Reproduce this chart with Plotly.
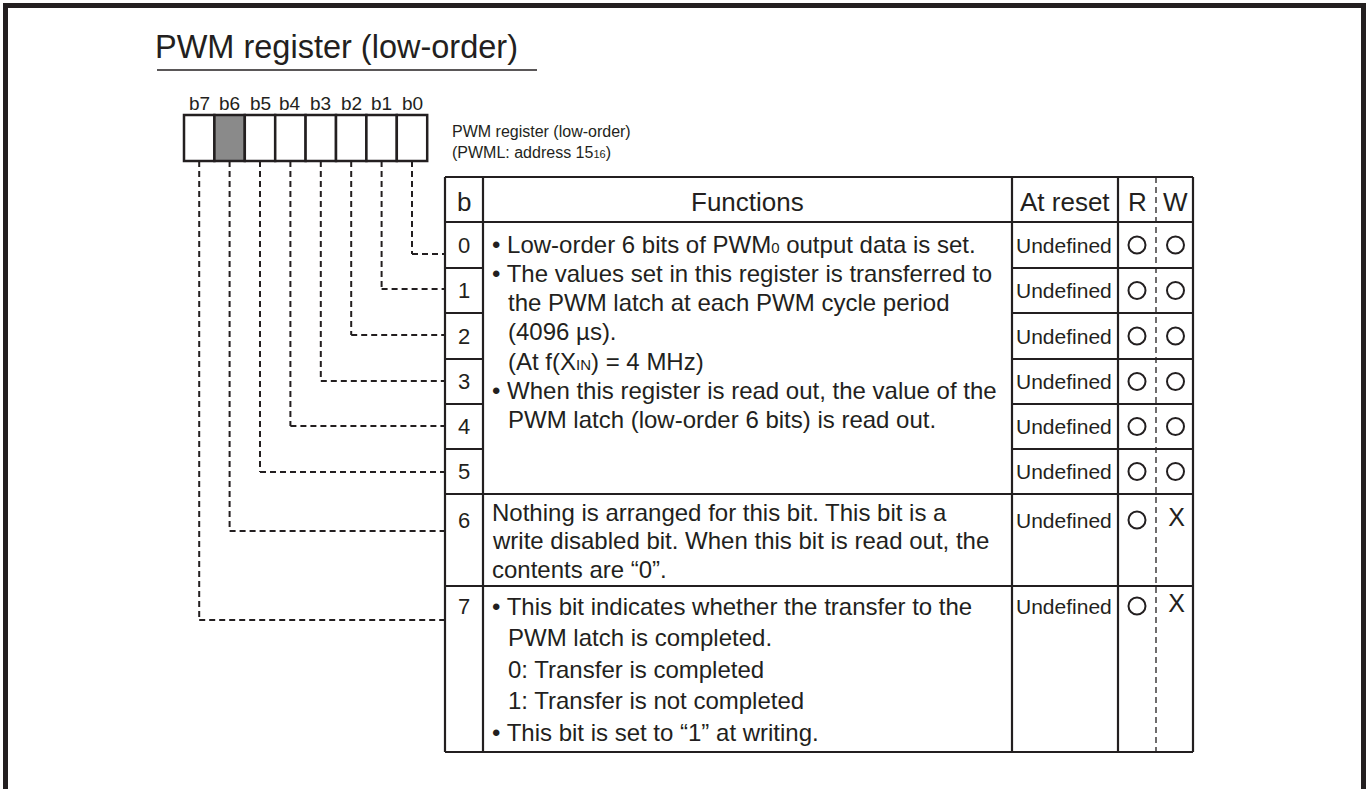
import plotly.graph_objects as go

# ---------------- data ----------------
title_text = "PWM register (low-order)"
register_caption = ["PWM register (low-order)",
                    "(PWML: address 15<span style='font-size:11px'>16</span>)"]
bit_labels = ["b7", "b6", "b5", "b4", "b3", "b2", "b1", "b0"]
shaded_bits = ["b6"]
header_labels = ["b", "Functions", "At reset", "R", "W"]
row_bits = ["0", "1", "2", "3", "4", "5", "6", "7"]
reset_values = ["Undefined"] * 8
read_access = ["O", "O", "O", "O", "O", "O", "O", "O"]
write_access = ["O", "O", "O", "O", "O", "O", "X", "X"]
func_rows_0_5 = [
    "• Low-order 6 bits of PWM<span style='font-size:15px'>0</span> output data is set.",
    "• The values set in this register is transferred to",
    "the PWM latch at each PWM cycle period",
    "(4096 µs).",
    "(At f(X<span style='font-size:15px'>IN</span>) = 4 MHz)",
    "• When this register is read out, the value of the",
    "PWM latch (low-order 6 bits) is read out.",
]
func_row_6 = [
    "Nothing is arranged for this bit. This bit is a",
    "write disabled bit. When this bit is read out, the",
    "contents are “0”.",
]
func_row_7 = [
    "• This bit indicates whether the transfer to the",
    "PWM latch is completed.",
    "0: Transfer is completed",
    "1: Transfer is not completed",
    "• This bit is set to “1” at writing.",
]

# ---------------- layout constants ----------------
W, H = 1367, 789
INK = "#231f20"
FONT = "Liberation Sans, Arial, Helvetica, sans-serif"

box_x0, box_w, box_top, box_bot = 184, 30.4, 115, 161
tab_l, col_b, col_f, col_r, col_rw, tab_r = 445, 483, 1012, 1118, 1156, 1193
tab_top, head_bot = 177, 222
row_bottoms = [268, 313, 359, 404, 449, 494, 586, 752]
connector_y = [254, 289, 335, 381, 426, 472, 531, 620]
mark_y_first_line = {6: 520, 7: 606}
FUNC_SIZE = 24

shapes, annots = [], []


def line(x0, y0, x1, y1, w=2.2, dash=None, color=INK):
    d = dict(type="line", x0=x0, y0=y0, x1=x1, y1=y1, xref="x", yref="y",
             line=dict(color=color, width=w))
    if dash:
        d["line"]["dash"] = dash
    shapes.append(d)


def text(x, y, s, size, anchor="left", color=INK):
    annots.append(dict(x=x, y=y, xref="x", yref="y", text=s, showarrow=False,
                       xanchor=anchor, yanchor="middle", borderpad=0,
                       font=dict(family=FONT, size=size, color=color)))


# outer frame (open at bottom)
line(5.5, 3, 5.5, H, w=5)
line(3, 5.5, 1364, 5.5, w=5)
line(1363.5, 3, 1363.5, H, w=5)

# title + underline
text(154, 47, title_text, 32.5)
line(157, 70, 537, 70, w=1.5)

# bit boxes
for i, b in enumerate(bit_labels):
    x0 = box_x0 + i * box_w
    shapes.append(dict(type="rect", x0=x0, x1=x0 + box_w, y0=box_top, y1=box_bot,
                       xref="x", yref="y", line=dict(color=INK, width=2.5),
                       fillcolor="#8a8a8a" if b in shaded_bits else "white"))
    text(x0 + box_w / 2, 103, b, 19, anchor="center")

# register caption
for k, s in enumerate(register_caption):
    text(451, 131 + k * 21, s, 16)

# row geometry
row_tops = [head_bot] + row_bottoms[:-1]
row_mid = [(t + b) / 2 for t, b in zip(row_tops, row_bottoms)]
mark_y = [mark_y_first_line.get(i, row_mid[i]) for i in range(8)]

# connectors: bit b(n) -> row n
for n in range(8):
    xc = box_x0 + (7 - n) * box_w + box_w / 2
    yc = connector_y[n]
    line(xc, box_bot, xc, yc, w=2, dash="6px,4px")
    line(xc, yc, tab_l, yc, w=2, dash="6px,4px")

# table outline and grid
line(tab_l, tab_top, tab_r, tab_top)
line(tab_l, row_bottoms[-1], tab_r, row_bottoms[-1])
line(tab_l, tab_top, tab_l, row_bottoms[-1])
line(tab_r, tab_top, tab_r, row_bottoms[-1])
for xv in (col_b, col_f, col_r):
    line(xv, tab_top, xv, row_bottoms[-1])
line(col_rw, tab_top, col_rw, row_bottoms[-1], w=1.3, dash="6px,4px")
line(tab_l, head_bot, tab_r, head_bot)
for i, yb in enumerate(row_bottoms[:-1]):
    if i < 5:
        line(tab_l, yb, col_b, yb)
        line(col_f, yb, tab_r, yb)
    else:
        line(tab_l, yb, tab_r, yb)

# header
hx = [(tab_l + col_b) / 2, (col_b + col_f) / 2, (col_f + col_r) / 2,
      (col_r + col_rw) / 2, (col_rw + tab_r) / 2 + 1]
for x, s in zip(hx, header_labels):
    text(x, 202, s, 26, anchor="center")

# row cells
for i in range(8):
    text(hx[0], mark_y[i], row_bits[i], 22, anchor="center")
    text((col_f + col_r) / 2 - 1, mark_y[i], reset_values[i], 21, anchor="center")

# access marks through scatter traces
traces = []
for col_x, access in ((hx[3], read_access), (hx[4], write_access)):
    ys_o = [mark_y[i] for i, a in enumerate(access) if a == "O"]
    ys_x = [mark_y[i] for i, a in enumerate(access) if a == "X"]
    if ys_o:
        traces.append(go.Scatter(x=[col_x] * len(ys_o), y=ys_o, mode="markers",
                                 marker=dict(symbol="circle-open", size=17,
                                             line=dict(width=2, color=INK), color=INK),
                                 hoverinfo="skip", showlegend=False))
    if ys_x:
        traces.append(go.Scatter(x=[col_x + 1] * len(ys_x), y=ys_x, mode="text",
                                 text=["X"] * len(ys_x),
                                 textfont=dict(family=FONT, size=25, color=INK),
                                 hoverinfo="skip", showlegend=False))

# functions text
bullet_x, cont_x = 491, 507
for k, s in enumerate(func_rows_0_5):
    text(bullet_x if s.startswith("•") else cont_x, 244 + k * 29.3, s, FUNC_SIZE)
for k, s in enumerate(func_row_6):
    text(bullet_x, 512 + k * 28.5, s, FUNC_SIZE)
for k, s in enumerate(func_row_7):
    text(bullet_x if s.startswith("•") else cont_x, 606 + k * 31.5, s, FUNC_SIZE)

fig = go.Figure(traces)
fig.update_layout(
    width=W, height=H, margin=dict(l=0, r=0, t=0, b=0),
    paper_bgcolor="white", plot_bgcolor="white",
    xaxis=dict(range=[0, W], visible=False, fixedrange=True),
    yaxis=dict(range=[H, 0], visible=False, fixedrange=True),
    shapes=shapes, annotations=annots, showlegend=False,
)
fig.write_html("out.html", config={"displayModeBar": False},
               post_script="document.body.style.margin='0';document.body.style.overflow='hidden';")
